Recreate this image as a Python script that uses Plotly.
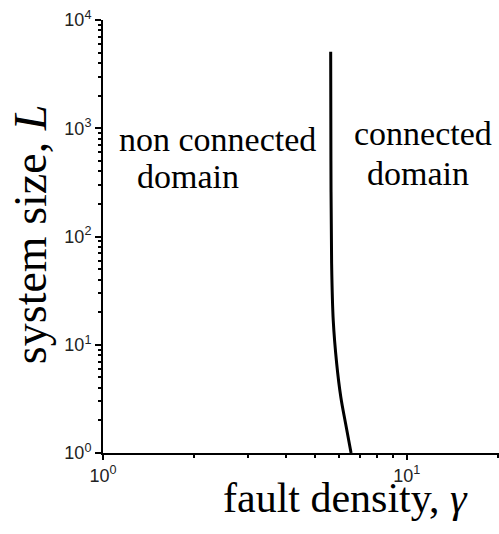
import plotly.graph_objects as go

# data
gamma = [6.56, 6.29, 6.07, 5.88, 5.73, 5.66, 5.63, 5.62]
system_size = [1, 1.88, 3.27, 6.75, 16.8, 56.6, 500, 5080]

y_tickvals = [1, 10, 100, 1000, 10000]
y_ticktext = ["10<sup>0</sup>", "10<sup>1</sup>", "10<sup>2</sup>", "10<sup>3</sup>", "10<sup>4</sup>"]
x_tickvals = [1, 10]
x_ticktext = ["10<sup>0</sup>", "10<sup>1</sup>"]

W, H = 499, 534
L_M, R_M, T_M, B_M = 103, 0, 20, 81

fig = go.Figure()
fig.add_trace(go.Scatter(x=gamma, y=system_size, mode="lines",
                         line=dict(color="black", width=3, shape="spline"),
                         showlegend=False, hoverinfo="skip"))

tickfont = dict(family="Liberation Sans", size=18, color="#222")
x_minor = [k * 10 ** d for d in range(0, 2) for k in range(2, 10)]
y_minor = [k * 10 ** d for d in range(0, 4) for k in range(2, 10)]

fig.update_xaxes(type="log", range=[0, 1.304], showline=True, linecolor="black", linewidth=2,
                 ticks="outside", ticklen=5, tickwidth=2, tickcolor="black",
                 tickvals=x_tickvals, ticktext=x_ticktext, tickfont=tickfont,
                 showgrid=False, zeroline=False,
                 minor=dict(tickvals=x_minor, ticks="outside", ticklen=3, tickwidth=1.5,
                            tickcolor="black", showgrid=False))
fig.update_yaxes(type="log", range=[0, 4], showline=True, linecolor="black", linewidth=2,
                 ticks="outside", ticklen=6, tickwidth=2, tickcolor="black",
                 tickvals=y_tickvals, ticktext=y_ticktext, tickfont=tickfont,
                 showgrid=False, zeroline=False,
                 minor=dict(tickvals=y_minor, ticks="outside", ticklen=3, tickwidth=1.5,
                            tickcolor="black", showgrid=False))

serif = "Liberation Serif"
ann = [
    dict(text="non connected", x=0.29, y=0.725, size=34),
    dict(text="domain", x=0.215, y=0.638, size=34),
    dict(text="connected", x=0.808, y=0.737, size=34),
    dict(text="domain", x=0.795, y=0.645, size=34),
]
for a in ann:
    fig.add_annotation(text=a["text"], x=a["x"], y=a["y"], xref="paper", yref="paper",
                       xanchor="center", yanchor="middle", showarrow=False,
                       font=dict(family=serif, size=a["size"], color="black"))

fig.add_annotation(text="fault density, <i>γ</i>", x=(345 - L_M) / 396, y=(452.7 - 498) / 432.7,
                   xref="paper", yref="paper", xanchor="center", yanchor="middle",
                   showarrow=False, font=dict(family=serif, size=42, color="black"))
fig.add_annotation(text="system size, <i>L</i>", x=(30 - L_M) / 396, y=(452.7 - 235) / 432.7,
                   xref="paper", yref="paper", xanchor="center", yanchor="middle",
                   textangle=-90, showarrow=False,
                   font=dict(family=serif, size=46, color="black"))

fig.update_layout(width=W, height=H, margin=dict(l=L_M, r=R_M, t=T_M, b=B_M),
                  plot_bgcolor="white", paper_bgcolor="white")
fig.write_html("out.html", config={"displayModeBar": False})

# remove the default page margin so the figure sits at the window's top-left corner
with open("out.html", encoding="utf-8") as f:
    html = f.read()
html = html.replace("<head>", "<head><style>html,body{margin:0;padding:0;overflow:hidden;}</style>", 1)
with open("out.html", "w", encoding="utf-8") as f:
    f.write(html)
